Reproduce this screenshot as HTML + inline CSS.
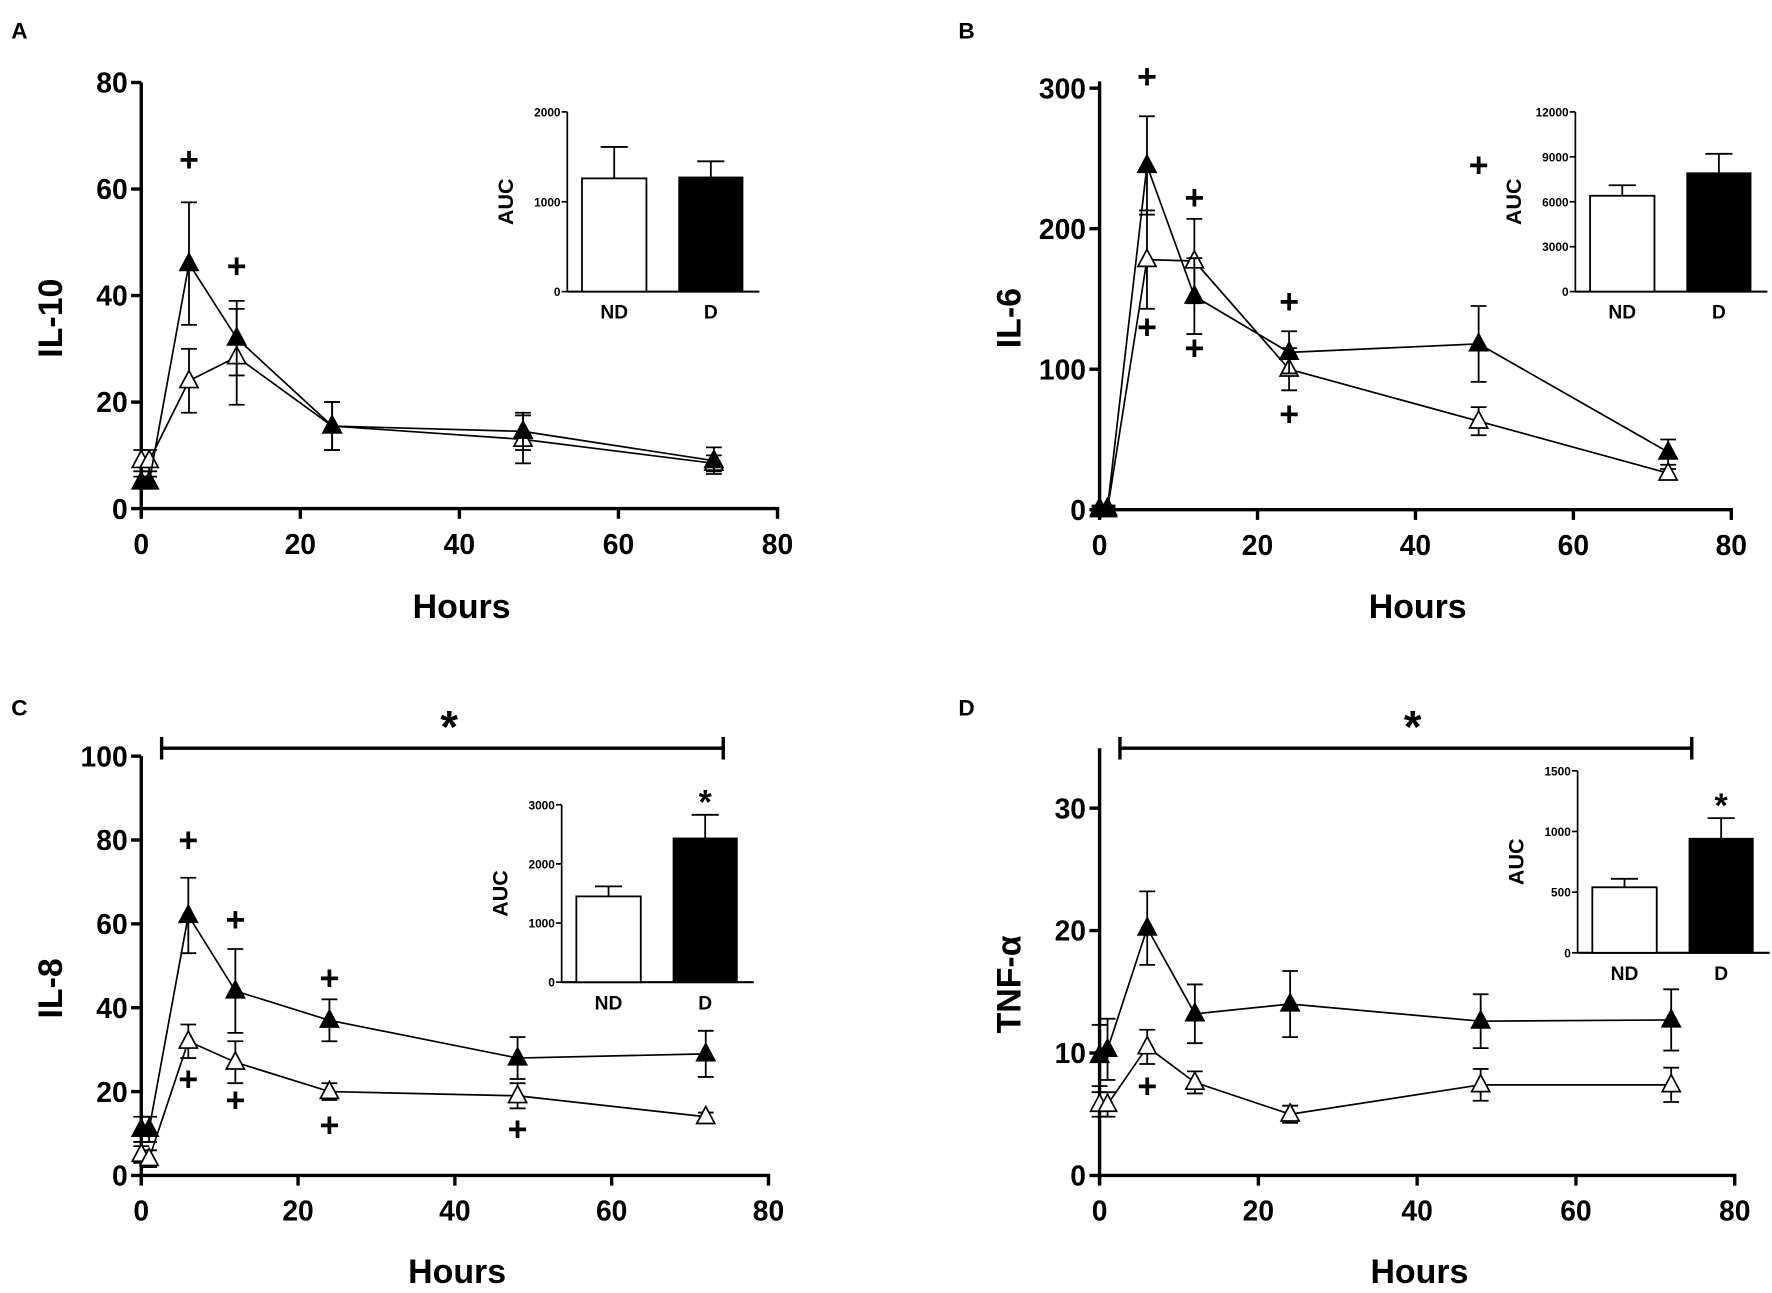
<!DOCTYPE html>
<html><head><meta charset="utf-8"><style>
html,body{margin:0;padding:0;background:#fff;}
svg{display:block;font-family:"Liberation Sans",Arial,sans-serif;font-weight:bold;}
</style></head><body>
<svg id="fig" width="1772" height="1293" viewBox="0 0 1568 1144" preserveAspectRatio="none" xmlns="http://www.w3.org/2000/svg"></svg>
<script>
const hours = [0, 1, 6, 12, 24, 48, 72];
const xTicks = [0, 20, 40, 60, 80];
const aD = [5, 5, 46, 32, 15.5, 14.5, 9];
const aDerr = [1, 1, 11.5, 7, 4.5, 3.5, 2.5];
const aND = [9, 9, 24, 28.5, 15.5, 13, 8.5];
const aNDerr = [2, 2, 6, 9, 4.5, 4.5, 1.5];
const aTicks = [0, 20, 40, 60, 80];
const aPlus = [[6, 65.5], [12, 45.5]];
const aAuc = [1260, 1270];
const aAucErr = [350, 180];
const aAucTicks = [0, 1000, 2000];
const bD = [1, 1, 245, 152, 112, 118, 41];
const bDerr = [2, 2, 35, 27, 15, 27, 9];
const bND = [0, 0, 178, 177, 100, 63, 26];
const bNDerr = [2, 2, 35, 30, 15, 10, 3];
const bTicks = [0, 100, 200, 300];
const bPlus = [[6, 308], [6, 130], [12, 222], [12, 115], [24, 148], [24, 68], [48, 245]];
const bAuc = [6400, 7900];
const bAucErr = [700, 1300];
const bAucTicks = [0, 3000, 6000, 9000, 12000];
const cD = [11, 11, 62, 44, 37, 28, 29];
const cDerr = [3, 3, 9, 10, 5, 5, 5.5];
const cND = [5, 4, 32, 27, 20, 19, 14];
const cNDerr = [2, 2, 4, 5, 2, 3, 1];
const cTicks = [0, 20, 40, 60, 80, 100];
const cPlus = [[6, 80], [6, 23], [12, 61], [12, 18], [24, 47], [24, 12], [48, 11]];
const cAuc = [1450, 2430];
const cAucErr = [170, 400];
const cAucTicks = [0, 1000, 2000, 3000];
const dD = [9.8, 10.3, 20.2, 13.2, 14, 12.6, 12.7];
const dDerr = [2.5, 2.5, 3, 2.4, 2.7, 2.2, 2.5];
const dND = [5.8, 5.8, 10.5, 7.6, 5, 7.4, 7.4];
const dNDerr = [1, 1, 1.4, 0.9, 0.7, 1.3, 1.4];
const dTicks = [0, 10, 20, 30];
const dPlus = [[6, 7.3]];
const dAuc = [540, 940];
const dAucErr = [70, 170];
const dAucTicks = [0, 500, 1000, 1500];

const NS = "http://www.w3.org/2000/svg";
const svg = document.getElementById('fig');
function mk(tag, attrs, parent, text) {
  const e = document.createElementNS(NS, tag);
  for (const k in attrs) e.setAttribute(k, attrs[k]);
  if (text !== undefined) e.textContent = text;
  (parent || svg).appendChild(e);
  return e;
}
function line(g, x1, y1, x2, y2, w, name) {
  const e = mk('line', {x1, y1, x2, y2, stroke: '#000', 'stroke-width': w}, g);
  
  
  return e;
}
function txt(g, x, y, s, size, anchor, name, extra) {
  const e = mk('text', Object.assign({x, y, 'font-size': size, 'text-anchor': anchor || 'middle'}, extra || {}), g, s);
  
  
  return e;
}

const panels = [
  {id:'a', letter:'A', lx:10, ly:34, ylab:'IL-10', x0:125, x80:688, y0:450, ymax:80, yTop:73, axTop:73,
   ticks:aTicks, D:aD, De:aDerr, N:aND, Ne:aNDerr, plus:aPlus, auc:aAuc, aucE:aAucErr, aucT:aAucTicks, ix:502, iy0:258, iyT:99, hoursY:547, star:false},
  {id:'b', letter:'B', lx:848, ly:34, ylab:'IL-6', x0:973, x80:1532, y0:451, ymax:300, yTop:78, axTop:72,
   ticks:bTicks, D:bD, De:bDerr, N:bND, Ne:bNDerr, plus:bPlus, auc:bAuc, aucE:bAucErr, aucT:bAucTicks, ix:1394, iy0:258, iyT:99, hoursY:547, star:false},
  {id:'c', letter:'C', lx:10, ly:633, ylab:'IL-8', x0:125, x80:680, y0:1040, ymax:100, yTop:669, axTop:669,
   ticks:cTicks, D:cD, De:cDerr, N:cND, Ne:cNDerr, plus:cPlus, auc:cAuc, aucE:cAucErr, aucT:cAucTicks, ix:497, iy0:869, iyT:712, hoursY:1135, star:true, bx1:143, bx2:640},
  {id:'d', letter:'D', lx:848, ly:633, ylab:'TNF-α', x0:973, x80:1535, y0:1040, ymax:30, yTop:715, axTop:662,
   ticks:dTicks, D:dD, De:dDerr, N:dND, Ne:dNDerr, plus:dPlus, auc:dAuc, aucE:dAucErr, aucT:dAucTicks, ix:1396, iy0:843, iyT:682, hoursY:1135, star:true, bx1:991, bx2:1497}
];

panels.forEach(p => {
  const g = mk('g', {});
  
  
  const X = v => p.x0 + (p.x80 - p.x0) * v / 80;
  const Y = v => p.y0 - (p.y0 - p.yTop) * v / p.ymax;
  txt(g, p.lx, p.ly, p.letter, 20, 'start', 'panel-label');
  line(g, p.x0, p.axTop, p.x0, p.y0 + 8, 3, 'y-axis');
  line(g, p.x0 - 1.5, p.y0, p.x80 + 1.5, p.y0, 3, 'x-axis');
  p.ticks.forEach(t => {
    line(g, p.x0 - 9, Y(t), p.x0, Y(t), 3, 'y-tick');
    txt(g, p.x0 - 12, Y(t) + 9, String(t), 25, 'end', 'y-tick-label');
  });
  xTicks.forEach(t => {
    line(g, X(t), p.y0, X(t), p.y0 + 9, 3, 'x-tick');
    txt(g, X(t), p.y0 + 40, String(t), 25, 'middle', 'x-tick-label');
  });
  txt(g, (p.x0 + p.x80) / 2 + 2, p.hoursY, 'Hours', 30, 'middle', 'x-axis-title');
  const cy = (p.y0 + p.axTop) / 2 + 20;
  txt(g, 0, 0, p.ylab, 30, 'middle', 'y-axis-title', {transform: `translate(${p.x0 - 70},${cy}) rotate(-90)`});
  [['N', 'Ne', '#fff', 'nondiabetic'], ['D', 'De', '#000', 'diabetic']].forEach(([k, ke, fill, nm]) => {
    const vals = p[k], errs = p[ke];
    const pts = hours.map((h, i) => X(h) + ',' + Y(vals[i])).join(' ');
    const pl = mk('polyline', {points: pts, fill: 'none', stroke: '#000', 'stroke-width': 1.5}, g);
    
    
    hours.forEach((h, i) => {
      const x = X(h);
      const yh = Y(vals[i] + errs[i]), yl = Y(vals[i] - errs[i]);
      line(g, x, yh, x, yl, 1.6, nm + '-error-bar');
      line(g, x - 7, yh, x + 7, yh, 1.6, nm + '-error-cap');
      line(g, x - 7, yl, x + 7, yl, 1.6, nm + '-error-cap');
    });
    hours.forEach((h, i) => {
      const x = X(h), yv = Y(vals[i]);
      const tri = mk('polygon', {points: `${x},${yv - 9} ${x - 8},${yv + 6} ${x + 8},${yv + 6}`, fill, stroke: '#000', 'stroke-width': 1.5}, g);
      
      
    });
  });
  p.plus.forEach(([h, v]) => {
    txt(g, X(h), Y(v) + 10, '+', 30, 'middle', 'significance-plus');
  });
  if (p.star) {
    line(g, p.bx1, 662, p.bx2, 662, 3, 'significance-bracket');
    line(g, p.bx1, 652, p.bx1, 672, 3, 'bracket-end');
    line(g, p.bx2, 652, p.bx2, 672, 3, 'bracket-end');
    txt(g, (p.bx1 + p.bx2) / 2 + 6, 657, '*', 40, 'middle', 'significance-star');
  }
  const ig = mk('g', {}, g);
  
  
  const amax = p.aucT[p.aucT.length - 1];
  const IY = v => p.iy0 - (p.iy0 - p.iyT) * v / amax;
  line(ig, p.ix, p.iyT, p.ix, p.iy0, 1.5, 'inset-y-axis');
  line(ig, p.ix, p.iy0, p.ix + 170, p.iy0, 1.8, 'inset-x-axis');
  p.aucT.forEach(t => {
    line(ig, p.ix - 5, IY(t), p.ix, IY(t), 1.5, 'inset-y-tick');
    txt(ig, p.ix - 6, IY(t) + 4, String(t), 10.5, 'end', 'inset-y-tick-label');
  });
  const bars = [[13, 70, '#fff', 'ND'], [99, 155, '#000', 'D']];
  bars.forEach(([a, b, fill, lab], i) => {
    const top = IY(p.auc[i]), et = IY(p.auc[i] + p.aucE[i]);
    const mid = p.ix + (a + b) / 2;
    line(ig, mid, top, mid, et, 1.6, 'inset-error-bar');
    line(ig, mid - 12, et, mid + 12, et, 1.6, 'inset-error-cap');
    const r = mk('rect', {x: p.ix + a, y: top, width: b - a, height: p.iy0 - top, fill, stroke: '#000', 'stroke-width': 1.6}, ig);
    
    
    txt(ig, mid, p.iy0 + 24, lab, 17, 'middle', 'inset-x-label');
    if (p.star && i === 1) txt(ig, mid, et - 1, '*', 30, 'middle', 'inset-significance-star');
  });
  txt(ig, 0, 0, 'AUC', 19, 'middle', 'inset-y-axis-title', {transform: `translate(${p.ix - 48},${(p.iy0 + p.iyT) / 2}) rotate(-90)`});
});
</script>
</body></html>
